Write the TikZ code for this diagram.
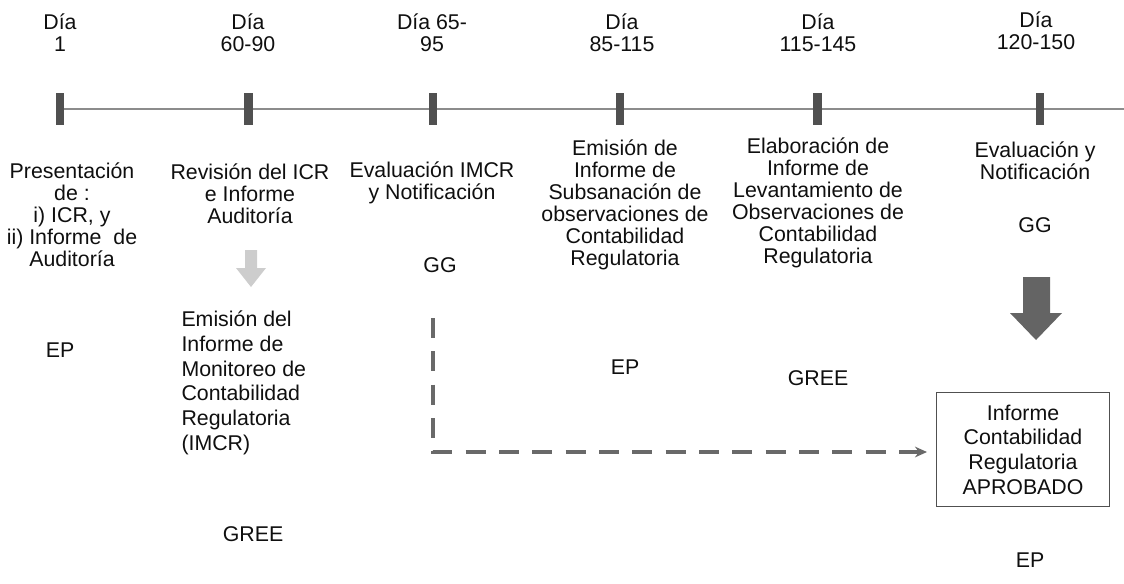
\documentclass[tikz,border=0pt]{standalone}
\usepackage{fontspec}
\setmainfont{Liberation Sans}
\usetikzlibrary{arrows.meta}

\tikzset{every picture/.style={line width=0.75pt}}
\tikzset{
  lbl/.style={align=center, inner sep=0pt, text={rgb,255:red,15;green,15;blue,15}, font=\fontsize{16}{16.5}\selectfont},
  lblwide/.style={lbl, font=\fontsize{16}{18.5}\selectfont},
}

\begin{document}
\begin{tikzpicture}[x=0.75pt,y=0.75pt,yscale=-1,xscale=1]
\useasboundingbox (0,0) rectangle (1124,583);

%Straight Lines [timeline]
\draw [color={rgb, 255:red, 140; green, 140; blue, 140 }, line width=1.5]  (60,109) -- (1124,109) ;
%Shape: Rectangle [marker day 1]
\fill [color={rgb, 255:red, 80; green, 80; blue, 80 }]  (56,93) -- (64,93) -- (64,125) -- (56,125) -- cycle ;
%Shape: Rectangle [marker day 60-90]
\fill [color={rgb, 255:red, 80; green, 80; blue, 80 }]  (244,93) -- (253,93) -- (253,125) -- (244,125) -- cycle ;
%Shape: Rectangle [marker day 65-95]
\fill [color={rgb, 255:red, 80; green, 80; blue, 80 }]  (429,93) -- (437,93) -- (437,125) -- (429,125) -- cycle ;
%Shape: Rectangle [marker day 85-115]
\fill [color={rgb, 255:red, 80; green, 80; blue, 80 }]  (616,93) -- (624,93) -- (624,125) -- (616,125) -- cycle ;
%Shape: Rectangle [marker day 115-145]
\fill [color={rgb, 255:red, 80; green, 80; blue, 80 }]  (813,93) -- (822,93) -- (822,125) -- (813,125) -- cycle ;
%Shape: Rectangle [marker day 120-150]
\fill [color={rgb, 255:red, 80; green, 80; blue, 80 }]  (1036,93) -- (1044,93) -- (1044,125) -- (1036,125) -- cycle ;

%Shape: Down Arrow [faded]
\fill [color={rgb, 255:red, 205; green, 205; blue, 205 }]  (245,250) -- (257,250) -- (257,268) -- (266,268) -- (251,287) -- (236,268) -- (245,268) -- cycle ;
%Shape: Down Arrow [big]
\fill [color={rgb, 255:red, 100; green, 100; blue, 100 }]  (1023,277) -- (1050,277) -- (1050,313) -- (1062,313) -- (1036,340) -- (1010,313) -- (1023,313) -- cycle ;

% Text Node
\draw (60,33) node [lbl] (d1) {Día\\1};
% Text Node
\draw (248,33) node [lbl] (d2) {Día\\60-90};
% Text Node
\draw (432,33) node [lbl] (d3) {Día 65-\\95};
% Text Node
\draw (622,33) node [lbl] (d4) {Día\\85-115};
% Text Node
\draw (818,33) node [lbl] (d5) {Día\\115-145};
% Text Node
\draw (1036,31) node [lbl] (d6) {Día\\120-150};

% Text Node
\draw (72,215) node [lbl] (t1) {Presentación\\de :\\i) ICR, y\\ii) Informe \ de\\Auditoría};
% Text Node
\draw (250,194) node [lbl] (t2) {Revisión del ICR\\e Informe\\Auditoría};
% Text Node
\draw (432,183) node [lbl] (t3) {Evaluación IMCR\\y Notificación};
% Text Node
\draw (625,205) node [lbl] (t4) {Emisión de\\Informe de\\Subsanación de\\observaciones de\\Contabilidad\\Regulatoria};
% Text Node
\draw (818,203) node [lbl] (t5) {Elaboración de\\Informe de\\Levantamiento de\\Observaciones de\\Contabilidad\\Regulatoria};
% Text Node
\draw (1035,161) node [lbl] (t6) {Evaluación y\\Notificación};
% Text Node
\draw (181,383) node [lblwide, align=left, anchor=west] (t7) {Emisión del\\Informe de\\Monitoreo de\\Contabilidad\\Regulatoria\\(IMCR)};

% Text Node
\draw (60,350) node [lbl] (ep1) {EP};
% Text Node
\draw (253,534) node [lbl] (gree1) {GREE};
% Text Node
\draw (440,265) node [lbl] (gg1) {GG};
% Text Node
\draw (625,367) node [lbl] (ep2) {EP};
% Text Node
\draw (818,378) node [lbl] (gree2) {GREE};
% Text Node
\draw (1035,225) node [lbl] (gg2) {GG};
% Text Node
\draw (1030,560) node [lbl] (ep3) {EP};

%Shape: Rectangle [approved report]
\draw (1023,449.5) node [lblwide, draw={rgb, 255:red, 80; green, 80; blue, 80 }, minimum width=130pt, minimum height=86pt, text width=120pt] (box) {Informe\\Contabilidad\\Regulatoria\\APROBADO};

%Straight Lines [dashed path]
\coordinate (dstart) at (433,318) ;
\coordinate (dend) at (927,452) ;
\draw [color={rgb, 255:red, 105; green, 105; blue, 105 }, line width=2.6, dash pattern={on 15pt off 10pt}, -{Stealth[length=9pt,width=8pt]}]  (dstart) |- (dend) ;

\end{tikzpicture}
\end{document}
